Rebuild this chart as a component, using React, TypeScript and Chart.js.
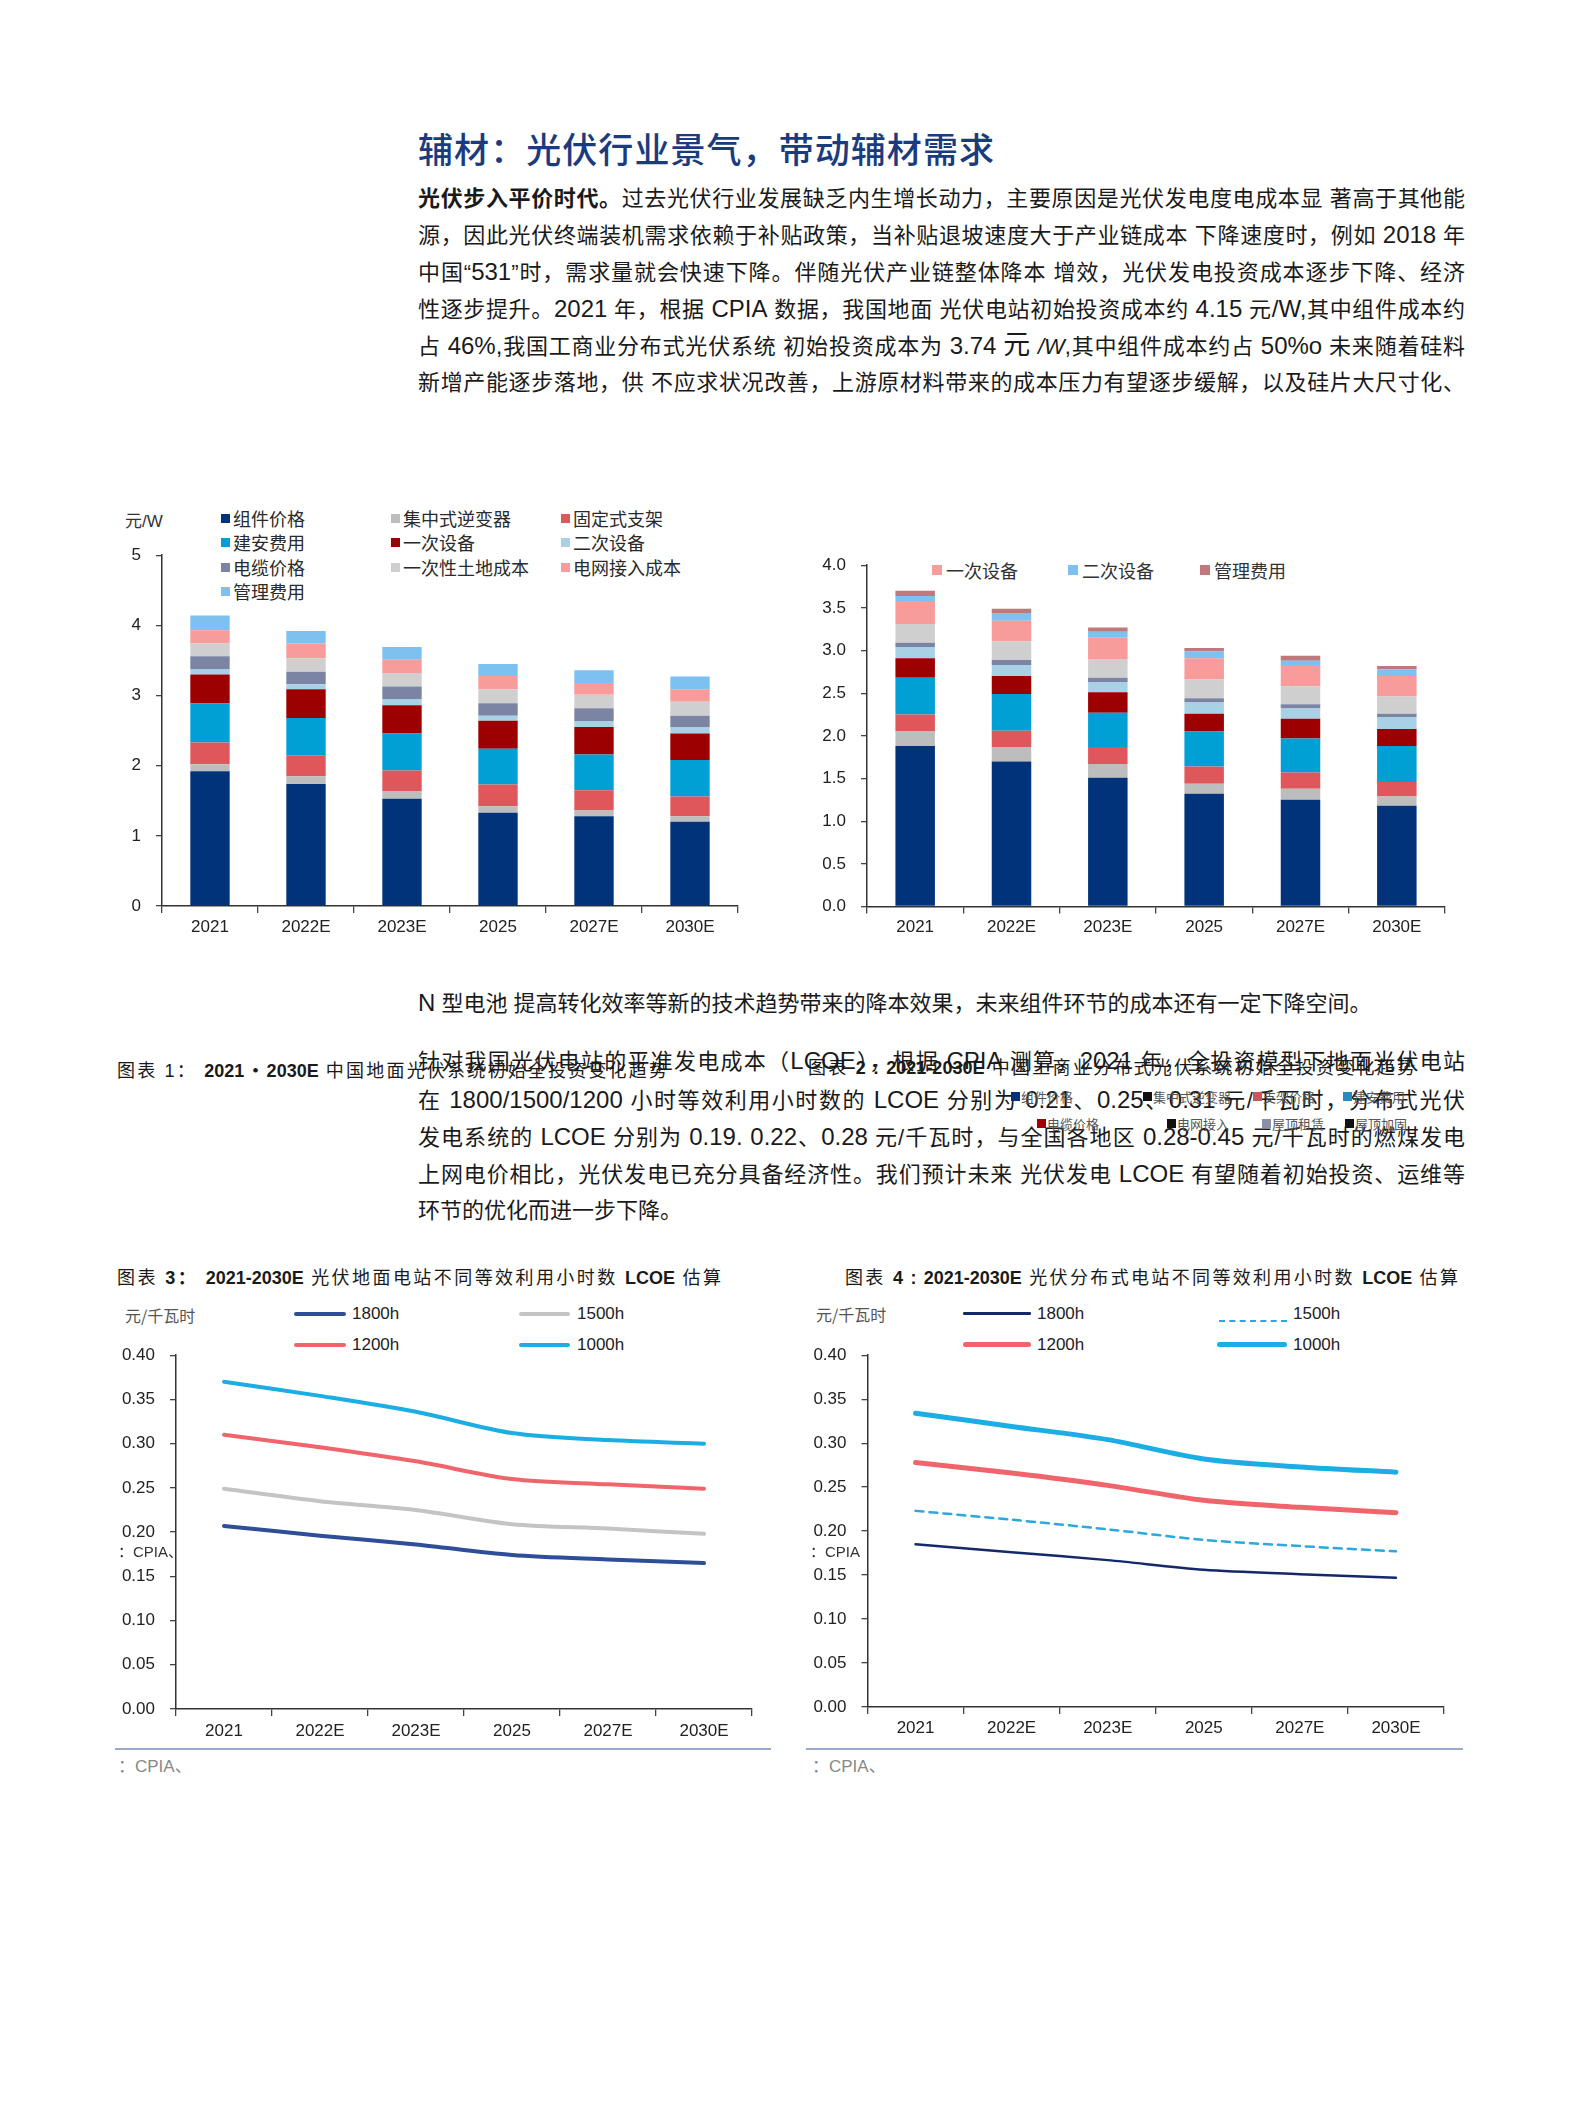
import React, { useEffect, useRef } from 'react';
import { Chart, registerables } from 'chart.js';

Chart.register(...registerables);

// ---------------- data ----------------
const categories = ['2021', '2022E', '2023E', '2025', '2027E', '2030E'];

// 图表1：地面光伏系统初始全投资 (元/W)
const c1Names = ['组件价格', '集中式逆变器', '固定式支架', '建安费用', '一次设备', '二次设备', '电缆价格', '一次性土地成本', '电网接入成本', '管理费用'];
const c1Module = [1.92, 1.74, 1.53, 1.33, 1.28, 1.2];
const c1Inverter = [0.1, 0.11, 0.11, 0.09, 0.08, 0.08];
const c1Bracket = [0.31, 0.3, 0.29, 0.31, 0.29, 0.28];
const c1Install = [0.56, 0.53, 0.53, 0.51, 0.51, 0.52];
const c1Primary = [0.41, 0.41, 0.4, 0.4, 0.39, 0.38];
const c1Secondary = [0.07, 0.07, 0.09, 0.07, 0.08, 0.09];
const c1Cable = [0.19, 0.18, 0.18, 0.18, 0.19, 0.16];
const c1Land = [0.18, 0.19, 0.19, 0.2, 0.19, 0.2];
const c1Grid = [0.19, 0.21, 0.19, 0.19, 0.17, 0.18];
const c1Mgmt = [0.21, 0.18, 0.18, 0.17, 0.18, 0.18];
const c1Series = [c1Module, c1Inverter, c1Bracket, c1Install, c1Primary, c1Secondary, c1Cable, c1Land, c1Grid, c1Mgmt];
const c1Colors = ['#00337a', '#bdbdbd', '#e0575b', '#009fd4', '#9c0000', '#a8d1e5', '#7b85a3', '#cfcfcf', '#f89b9b', '#7dc1f0'];

// 图表2：工商业分布式光伏系统初始全投资 (元/W)
const c2Names = ['组件价格', '集中式逆变器', '支架价格', '建安费用', '电缆价格', '电网接入', '屋顶租赁', '屋顶加固', '一次设备', '二次设备', '管理费用'];
const c2Module = [1.88, 1.7, 1.51, 1.32, 1.25, 1.18];
const c2Inverter = [0.17, 0.17, 0.16, 0.12, 0.13, 0.11];
const c2Bracket = [0.2, 0.19, 0.2, 0.2, 0.19, 0.17];
const c2Install = [0.43, 0.43, 0.4, 0.41, 0.4, 0.42];
const c2Cable = [0.23, 0.21, 0.24, 0.21, 0.23, 0.2];
const c2GridAccess = [0.13, 0.13, 0.12, 0.13, 0.12, 0.14];
const c2RoofRent = [0.05, 0.06, 0.05, 0.05, 0.05, 0.04];
const c2RoofReinforce = [0.22, 0.22, 0.22, 0.22, 0.21, 0.2];
const c2Primary = [0.27, 0.24, 0.25, 0.25, 0.24, 0.24];
const c2Secondary = [0.06, 0.09, 0.07, 0.08, 0.06, 0.08];
const c2Mgmt = [0.06, 0.05, 0.05, 0.04, 0.06, 0.04];
const c2Series = [c2Module, c2Inverter, c2Bracket, c2Install, c2Cable, c2GridAccess, c2RoofRent, c2RoofReinforce, c2Primary, c2Secondary, c2Mgmt];
const c2Colors = ['#00337a', '#bdbdbd', '#e0575b', '#009fd4', '#9c0000', '#a8d1e5', '#7b85a3', '#cfcfcf', '#f89b9b', '#7dc1f0', '#c0787d'];

// 图表3：地面电站 LCOE (元/千瓦时)
const lcoeNames = ['1800h', '1500h', '1200h', '1000h'];
const g1800 = [0.207, 0.196, 0.186, 0.174, 0.169, 0.165];
const g1500 = [0.249, 0.235, 0.225, 0.209, 0.204, 0.198];
const g1200 = [0.31, 0.296, 0.28, 0.26, 0.254, 0.249];
const g1000 = [0.37, 0.354, 0.336, 0.312, 0.304, 0.3];

// 图表4：分布式电站 LCOE (元/千瓦时)
const d1800 = [0.185, 0.176, 0.167, 0.156, 0.151, 0.147];
const d1500 = [0.223, 0.213, 0.202, 0.19, 0.183, 0.177];
const d1200 = [0.278, 0.266, 0.252, 0.235, 0.227, 0.221];
const d1000 = [0.334, 0.319, 0.304, 0.282, 0.273, 0.267];

// ---------------- helpers ----------------
const FONT = '"Liberation Sans", "Noto Sans CJK SC", sans-serif';
const CJKF = '"Noto Sans CJK SC", "Liberation Sans", sans-serif';
Chart.defaults.font.family = FONT;

function yScale(max: number, step: number, dec: number, yW: number, stacked = false) {
  return {
    stacked,
    min: 0,
    max,
    afterFit: (s: any) => { s.width = yW; },
    ticks: { stepSize: step, color: '#222', font: { size: 17, family: FONT }, padding: 15, callback: (v: any) => Number(v).toFixed(dec) },
    grid: { drawOnChartArea: false, drawTicks: true, tickLength: 6, color: '#444', lineWidth: 1.3 },
    border: { color: '#333', width: 1.5 },
  };
}
function xScale(xH: number, pad: number, stacked = false) {
  return {
    stacked,
    offset: true,
    afterFit: (s: any) => { s.height = xH; },
    ticks: { color: '#222', font: { size: 17, family: FONT }, padding: pad, maxRotation: 0 },
    grid: { offset: true, drawOnChartArea: false, drawTicks: true, tickLength: 7, color: '#444', lineWidth: 1.3 },
    border: { color: '#333', width: 1.5 },
  };
}

function ChartBox({ left, top, width, height, make }: any) {
  const ref = useRef<HTMLCanvasElement>(null);
  useEffect(() => {
    const chart = new Chart(ref.current as HTMLCanvasElement, make());
    return () => chart.destroy();
  }, []);
  return <canvas ref={ref} width={width} height={height} style={{ position: 'absolute', left, top, width, height }} />;
}

function T({ x, y, w, fs, color = '#1a1a1a', weight = 400, justify = false, family = FONT, children }: any) {
  const lh = Math.round(fs * 1.6);
  return (
    <div
      style={{
        position: 'absolute', left: x, top: y - lh / 2, width: w, height: lh, lineHeight: lh + 'px',
        fontSize: fs, color, fontWeight: weight, fontFamily: family,
        textAlign: justify ? 'justify' : 'left', textAlignLast: justify ? 'justify' : 'auto',
        whiteSpace: w ? 'normal' : 'nowrap',
      } as any}
    >
      {children}
    </div>
  );
}

// Latin runs in the body text are set slightly larger, as in the reference
function L({ children }: any) {
  return <span style={{ fontSize: 24 }}>{children}</span>;
}

function Sq({ x, y, size, color }: any) {
  return <div style={{ position: 'absolute', left: x, top: y - size / 2, width: size, height: size, background: color }} />;
}

function LegLine({ x1, x2, y, w, color, dash }: any) {
  if (dash) {
    return <div style={{ position: 'absolute', left: x1, top: y - w / 2, width: x2 - x1, height: 0, borderTop: `${w}px dashed ${color}` }} />;
  }
  return <div style={{ position: 'absolute', left: x1, top: y - w / 2, width: x2 - x1, height: w, background: color, borderRadius: w / 2 }} />;
}

// ---------------- chart configs ----------------
function makeC1() {
  return {
    type: 'bar',
    data: {
      labels: categories,
      datasets: c1Series.map((d, i) => ({ label: c1Names[i], data: d, backgroundColor: c1Colors[i], borderWidth: 0, barPercentage: 0.41, categoryPercentage: 1 })),
    },
    options: {
      responsive: false, animation: false, devicePixelRatio: 1,
      layout: { padding: { top: 19, right: 22, left: 0, bottom: 0 } },
      plugins: { legend: { display: false }, tooltip: { enabled: false } },
      scales: { x: xScale(54, 4, true), y: yScale(5, 1, 0, 62, true) },
    },
  };
}
function makeC2() {
  return {
    type: 'bar',
    data: {
      labels: categories,
      datasets: c2Series.map((d, i) => ({ label: c2Names[i], data: d, backgroundColor: c2Colors[i], borderWidth: 0, barPercentage: 0.41, categoryPercentage: 1 })),
    },
    options: {
      responsive: false, animation: false, devicePixelRatio: 1,
      layout: { padding: { top: 18, right: 25, left: 0, bottom: 0 } },
      plugins: { legend: { display: false }, tooltip: { enabled: false } },
      scales: { x: xScale(53.5, 4, true), y: yScale(4, 0.5, 1, 77, true) },
    },
  };
}
function lineDs(label: string, data: number[], color: string, width: number, dash?: number[]) {
  return { label, data, borderColor: color, backgroundColor: color, borderWidth: width, pointRadius: 0, tension: 0.3, fill: false, borderDash: dash || [], borderCapStyle: 'round' };
}
function makeC3() {
  return {
    type: 'line',
    data: {
      labels: categories,
      datasets: [
        lineDs(lcoeNames[0], g1800, '#2e4e99', 4),
        lineDs(lcoeNames[1], g1500, '#c4c4c4', 4),
        lineDs(lcoeNames[2], g1200, '#f0656b', 4),
        lineDs(lcoeNames[3], g1000, '#1badE3', 4),
      ],
    },
    options: {
      responsive: false, animation: false, devicePixelRatio: 1,
      layout: { padding: { top: 15, right: 18, left: 0, bottom: 0 } },
      plugins: { legend: { display: false }, tooltip: { enabled: false } },
      scales: { x: xScale(41, 5), y: yScale(0.4, 0.05, 2, 76) },
    },
  };
}
function makeC4() {
  return {
    type: 'line',
    data: {
      labels: categories,
      datasets: [
        lineDs(lcoeNames[0], d1800, '#14286b', 2.5),
        lineDs(lcoeNames[1], d1500, '#2aa8df', 2.5, [8, 6]),
        lineDs(lcoeNames[2], d1200, '#f0656b', 5),
        lineDs(lcoeNames[3], d1000, '#1badE3', 5),
      ],
    },
    options: {
      responsive: false, animation: false, devicePixelRatio: 1,
      layout: { padding: { top: 13, right: 26, left: 0, bottom: 0 } },
      plugins: { legend: { display: false }, tooltip: { enabled: false } },
      scales: { x: xScale(43, 4.5), y: yScale(0.4, 0.05, 2, 77.5) },
    },
  };
}

// ---------------- page ----------------
export default function App() {
  const B = { fontWeight: 700 };
  const c1LegX = [221, 391, 561];
  const c1LegY = [518, 542, 567, 591];
  const c1LegOrder = [[0, 1, 2], [3, 4, 5], [6, 7, 8], [9]];
  return (
    <div style={{ position: 'absolute', left: 0, top: 0, width: 1571, height: 2112, background: '#fff', overflow: 'hidden', fontFamily: FONT }}>
      {/* heading */}
      <T x={418} y={148} w={576} fs={35} color="#1b3b7f" weight={500} justify family={CJKF}>辅材：光伏行业景气，带动辅材需求</T>

      {/* top paragraph */}
      <T x={418} y={198} w={1047} fs={22} justify><span style={B}>光伏步入平价时代。</span>过去光伏行业发展缺乏内生增长动力，主要原因是光伏发电度电成本显 著高于其他能</T>
      <T x={418} y={234.5} w={1047} fs={22} justify>源，因此光伏终端装机需求依赖于补贴政策，当补贴退坡速度大于产业链成本 下降速度时，例如 <L>2018</L> 年</T>
      <T x={418} y={271} w={1047} fs={22} justify>中国“<L>531</L>”时，需求量就会快速下降。伴随光伏产业链整体降本 增效，光伏发电投资成本逐步下降、经济</T>
      <T x={418} y={308.5} w={1047} fs={22} justify>性逐步提升。<L>2021</L> 年，根据 <L>CPIA</L> 数据，我国地面 光伏电站初始投资成本约 <L>4.15</L> 元<L>/W,</L>其中组件成本约</T>
      <T x={418} y={345} w={1047} fs={22} justify>占 <L>46%,</L>我国工商业分布式光伏系统 初始投资成本为 <L>3.74</L> <span style={{ fontSize: 27 }}>元</span> <i>/W</i>,其中组件成本约占 <L>50%o</L> 未来随着硅料</T>
      <T x={418} y={382.5} w={1047} fs={22} justify>新增产能逐步落地，供 不应求状况改善，上游原材料带来的成本压力有望逐步缓解，以及硅片大尺寸化、</T>

      {/* chart 1 */}
      <T x={125} y={521} fs={17} color="#333">元/W</T>
      {c1LegOrder.map((row, r) => row.map((idx, c) => (
        <React.Fragment key={`l1-${idx}`}>
          <Sq x={c1LegX[c]} y={c1LegY[r]} size={9} color={c1Colors[idx]} />
          <T x={c1LegX[c] + 12} y={c1LegY[r]} fs={18} color="#2a2a2a" family={CJKF}>{c1Names[idx]}</T>
        </React.Fragment>
      )))}
      <ChartBox left={100} top={530} width={660} height={430} make={makeC1} />

      {/* chart 2 */}
      <Sq x={932} y={570} size={10} color={c2Colors[8]} />
      <T x={946} y={570} fs={18} color="#333" family={CJKF}>{c2Names[8]}</T>
      <Sq x={1068} y={570} size={10} color={c2Colors[9]} />
      <T x={1082} y={570} fs={18} color="#333" family={CJKF}>{c2Names[9]}</T>
      <Sq x={1200} y={570} size={10} color={c2Colors[10]} />
      <T x={1214} y={570} fs={18} color="#333" family={CJKF}>{c2Names[10]}</T>
      <ChartBox left={790} top={540} width={680} height={420} make={makeC2} />

      {/* middle text */}
      <T x={418} y={1002} fs={22}><L>N</L> 型电池 提高转化效率等新的技术趋势带来的降本效果，未来组件环节的成本还有一定下降空间。</T>
      <T x={418} y={1060} w={1047} fs={22} justify>针对我国光伏电站的平准发电成本（<L>LCOE</L>），根据 <L>CPIA</L> 测算，<L>2021</L> 年，全投资模型下地面光伏电站</T>
      <T x={117} y={1071} w={550} fs={18} justify>图表 1： <span style={B}>2021・2030E</span> 中国地面光伏系统初始全投资变化趋势</T>
      <T x={808} y={1068} w={607} fs={18} justify>图表 <span style={B}>2 : 2021-2030E</span> 中国工商业分布式光伏系统初始全投资变化趋势</T>
      <T x={418} y={1099.5} w={1047} fs={22} justify>在 <L>1800/1500/1200</L> 小时等效利用小时数的 <L>LCOE</L> 分别为 <L>0.21</L>、<L>0.25</L>、<L>0.31</L> 元/千瓦时，分布式光伏</T>
      <T x={418} y={1136} w={1047} fs={22} justify>发电系统的 <L>LCOE</L> 分别为 <L>0.19. 0.22</L>、<L>0.28</L> 元/千瓦时，与全国各地区 <L>0.28-0.45</L> 元/千瓦时的燃煤发电</T>
      <T x={418} y={1173.5} w={1047} fs={22} justify>上网电价相比，光伏发电已充分具备经济性。我们预计未来 光伏发电 <L>LCOE</L> 有望随着初始投资、运维等</T>
      <T x={418} y={1210} fs={22}>环节的优化而进一步下降。</T>

      {/* displaced legend of chart 2 */}
      {[
        [1011, 1096, '#00337a', c2Names[0]], [1143, 1096, '#111', c2Names[1]], [1253, 1096, '#c9575b', c2Names[2]], [1343, 1096, '#1f8fc0', c2Names[3]],
        [1037, 1123, '#a00000', c2Names[4]], [1167, 1123, '#111', c2Names[5]], [1262, 1123, '#8a8fa8', c2Names[6]], [1345, 1123, '#111', c2Names[7]],
      ].map(([x, y, col, name]: any) => (
        <React.Fragment key={`g-${name}`}>
          <Sq x={x} y={y} size={9} color={col} />
          <T x={x + 10} y={y} fs={13} color="#555" family={CJKF}>{name}</T>
        </React.Fragment>
      ))}

      {/* chart 3 */}
      <T x={117} y={1278.6} w={604} fs={18} justify>图表 <span style={B}>3：</span> <span style={B}>2021-2030E</span> 光伏地面电站不同等效利用小时数 <span style={B}>LCOE</span> 估算</T>
      <T x={125} y={1315} fs={16} color="#555" family={CJKF}>元/千瓦时</T>
      <LegLine x1={294} x2={346} y={1313.6} w={4} color="#2e4e99" />
      <T x={352} y={1313.6} fs={17} color="#222">{lcoeNames[0]}</T>
      <LegLine x1={519} x2={570} y={1313.6} w={4} color="#c4c4c4" />
      <T x={577} y={1313.6} fs={17} color="#222">{lcoeNames[1]}</T>
      <LegLine x1={294} x2={346} y={1344.6} w={4} color="#f0656b" />
      <T x={352} y={1344.6} fs={17} color="#222">{lcoeNames[2]}</T>
      <LegLine x1={519} x2={570} y={1344.6} w={4} color="#1badE3" />
      <T x={577} y={1344.6} fs={17} color="#222">{lcoeNames[3]}</T>
      <ChartBox left={100} top={1330} width={670} height={420} make={makeC3} />
      <T x={118} y={1552} fs={15} color="#333">：CPIA、</T>
      <div style={{ position: 'absolute', left: 115, top: 1748, width: 656, height: 2, background: '#9aaacb' }} />
      <T x={118} y={1766} fs={17} color="#888">：CPIA、</T>

      {/* chart 4 */}
      <T x={845} y={1278.6} w={613} fs={18} justify>图表 <span style={B}>4 : 2021-2030E</span> 光伏分布式电站不同等效利用小时数 <span style={B}>LCOE</span> 估算</T>
      <T x={816} y={1313.6} fs={16} color="#555" family={CJKF}>元/千瓦时</T>
      <LegLine x1={963} x2={1031} y={1313.6} w={2.5} color="#14286b" />
      <T x={1037} y={1313.6} fs={17} color="#222">{lcoeNames[0]}</T>
      <LegLine x1={1219} x2={1287} y={1321} w={2} color="#2aa8df" dash />
      <T x={1293} y={1313.6} fs={17} color="#222">{lcoeNames[1]}</T>
      <LegLine x1={963} x2={1031} y={1344.6} w={5} color="#f0656b" />
      <T x={1037} y={1344.6} fs={17} color="#222">{lcoeNames[2]}</T>
      <LegLine x1={1217} x2={1287} y={1344.6} w={5} color="#1badE3" />
      <T x={1293} y={1344.6} fs={17} color="#222">{lcoeNames[3]}</T>
      <ChartBox left={790} top={1330} width={680} height={420} make={makeC4} />
      <T x={810} y={1552} fs={15} color="#333">：CPIA</T>
      <div style={{ position: 'absolute', left: 806, top: 1748, width: 657, height: 2, background: '#9aaacb' }} />
      <T x={812} y={1766} fs={17} color="#888">：CPIA、</T>
    </div>
  );
}
